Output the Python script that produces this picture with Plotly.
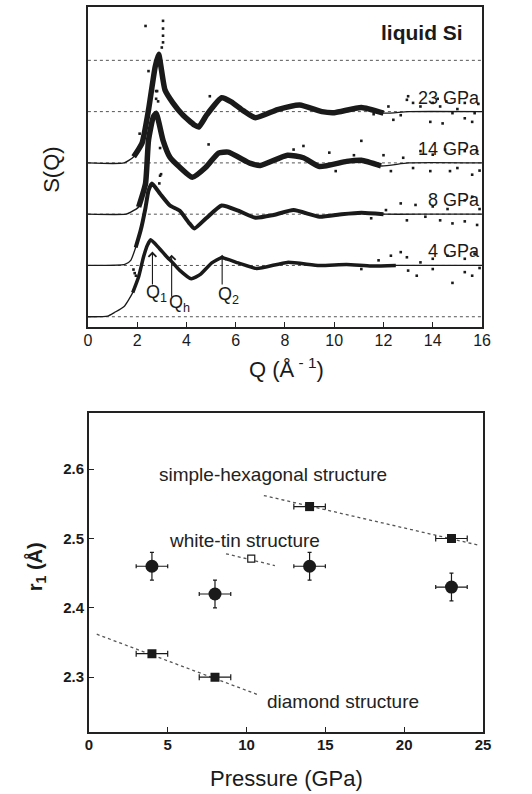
import plotly.graph_objects as go

# ---------------- top panel: S(Q) curves (stacked, offset 1 per curve) ----------------
pressures_top = ["4 GPa", "8 GPa", "14 GPa", "23 GPa"]
offsets = [0, 1, 2, 3]
ref_levels = [0, 1, 2, 3, 4, 5]

q4 = [0, 0.8, 1.07, 1.47, 1.82, 2.06, 2.26, 2.42, 2.55, 2.85, 3.2, 3.45, 3.72, 4.2, 4.55, 5.03, 5.43, 6.1, 6.85, 8.1, 9.4, 10.5, 11.5, 12.5, 14, 16]
s4 = [0, 0.01, 0.08, 0.2, 0.47, 0.78, 1.17, 1.4, 1.5, 1.36, 1.17, 1.05, 0.91, 0.74, 0.82, 1.05, 1.15, 1.05, 0.94, 1.06, 1.0, 1.02, 0.99, 1.0, 1.0, 1.0]

q8 = [0, 1.5, 1.74, 1.94, 2.14, 2.34, 2.46, 2.6, 2.93, 3.33, 3.72, 4.12, 4.32, 4.8, 5.43, 6.1, 6.8, 7.5, 8.35, 9.4, 10.3, 11.1, 12, 14, 16]
s8 = [0, 0.02, 0.1, 0.35, 0.68, 1.13, 1.46, 1.6, 1.4, 1.17, 1.07, 0.82, 0.72, 0.92, 1.17, 1.07, 0.93, 0.98, 1.08, 0.95, 1.0, 1.03, 1.0, 1.0, 1.0]

q14 = [0, 1.55, 1.74, 2.06, 2.34, 2.46, 2.65, 2.77, 3.05, 3.33, 3.72, 4.24, 4.8, 5.3, 5.7, 6.6, 7.0, 8.1, 8.75, 9.4, 10.5, 11.1, 11.9, 13, 16]
s14 = [0, 0.0, 0.04, 0.14, 0.6, 1.44, 1.89, 1.97, 1.44, 1.11, 0.92, 0.72, 0.92, 1.19, 1.21, 0.99, 0.95, 1.15, 1.1, 0.93, 1.03, 1.05, 0.94, 1.0, 1.0]

q23 = [0, 1.47, 1.86, 2.2, 2.46, 2.73, 2.87, 3.13, 3.45, 3.84, 4.32, 4.5, 4.83, 5.43, 5.82, 6.3, 6.8, 7.7, 8.6, 9.5, 10.0, 11.1, 12.0, 13, 16]
s23 = [0, 0.0, 0.12, 0.39, 1.03, 1.87, 2.12, 1.42, 1.17, 0.94, 0.74, 0.70, 0.94, 1.27, 1.19, 1.02, 0.88, 1.04, 1.13, 1.0, 0.98, 1.08, 0.97, 1.0, 1.0]

# scattered individual data points
dq4 = [1.85, 1.9, 1.95, 11.1, 11.8, 12.3, 12.7, 12.95, 13.0, 13.35, 13.5, 14.0, 14.0, 14.6, 14.8, 15.3, 15.3, 15.6, 15.7, 15.9]
ds4 = [0.92, 0.85, 0.8, 0.93, 1.1, 1.19, 1.26, 1.16, 0.9, 0.8, 1.06, 1.13, 0.93, 1.19, 0.66, 1.13, 0.87, 0.8, 1.23, 0.95]
dq8 = [2.9, 2.93, 11.5, 12.1, 12.7, 12.95, 13.3, 13.7, 14.0, 14.3, 14.6, 14.8, 15.3, 15.3, 15.6, 15.8, 15.9]
ds8 = [1.6, 1.75, 0.92, 1.08, 1.21, 0.88, 1.18, 0.95, 1.15, 0.88, 1.1, 0.82, 1.27, 0.86, 1.34, 0.79, 1.1]
dq14 = [2.77, 2.77, 2.93, 2.97, 4.9, 8.35, 8.75, 9.8, 10.06, 10.8, 11.1, 12.0, 12.3, 12.8, 13.2, 13.5, 13.9, 14.0, 14.5, 14.7, 15.0, 15.3, 15.6, 15.8, 15.9]
ds14 = [2.4, 2.25, 1.29, 0.78, 1.36, 1.26, 1.33, 1.2, 0.84, 1.15, 1.43, 1.15, 0.84, 1.1, 0.9, 1.23, 0.84, 1.16, 1.26, 0.84, 0.9, 1.23, 0.77, 1.23, 0.85]
dq23 = [2.1, 2.34, 2.46, 2.81, 2.85, 3.0, 3.05, 3.05, 3.05, 3.05, 4.95, 11.6, 12.2, 12.4, 12.7, 12.95, 13.0, 13.2, 13.5, 13.9, 14.0, 14.2, 14.3, 14.4, 14.55, 14.8, 15.0, 15.3, 15.3, 15.6, 15.7, 15.85]
ds23 = [0.57, 2.67, 1.79, 1.4, 1.2, 2.25, 2.35, 2.48, 2.62, 2.77, 1.3, 0.95, 1.1, 0.84, 0.93, 1.23, 1.3, 1.17, 1.1, 0.8, 1.17, 1.25, 1.1, 0.77, 1.2, 0.97, 1.05, 1.17, 0.87, 0.8, 0.97, 1.15]

curves_q = [q4, q8, q14, q23]
curves_s = [s4, s8, s14, s23]
dots_q = [dq4, dq8, dq14, dq23]
dots_s = [ds4, ds8, ds14, ds23]
band_width = [3.5, 4.0, 5.5, 5.5]

# peak markers: label, Q of arrow, arrow head / tail and label position (units of the 4 GPa curve)
peak_labels = ["Q<sub>1</sub>", "Q<sub>h</sub>", "Q<sub>2</sub>"]
peak_q = [2.62, 3.4, 5.45]
peak_head = [1.27, 1.21, 1.21]
peak_tail = [0.6, 0.36, 0.6]
peak_label_q = [2.8, 3.72, 5.72]
peak_label_s = [0.46, 0.25, 0.42]

# ---------------- bottom panel: r1 vs pressure ----------------
liq_p = [4, 8, 14, 23]
liq_r = [2.46, 2.42, 2.46, 2.43]
liq_perr = [1, 1, 1, 1]
liq_rerr = [0.02, 0.02, 0.02, 0.02]

dia_p = [4, 8]
dia_r = [2.334, 2.30]
sh_p = [14, 23]
sh_r = [2.546, 2.50]
sq_perr = [1, 1]
wt_p = [10.3]
wt_r = [2.471]

dia_fit_p = [0.5, 10.7]
dia_fit_r = [2.362, 2.275]
sh_fit_p = [11.1, 24.8]
sh_fit_r = [2.562, 2.490]
wt_fit_p = [8.7, 11.8]
wt_fit_r = [2.478, 2.461]

struct_labels = ["simple-hexagonal structure", "white-tin structure", "diamond structure"]
struct_p = [11.7, 9.9, 16.1]
struct_r = [2.593, 2.497, 2.265]

FONT = "Liberation Sans, Arial, Helvetica, sans-serif"
INK = "#1a1a1a"

fig = go.Figure()

# reference dotted levels
for lv in ref_levels:
    fig.add_trace(go.Scatter(x=[0, 16], y=[lv, lv], mode="lines",
                             line=dict(color="#555", width=1, dash="dot"),
                             hoverinfo="skip", showlegend=False, xaxis="x", yaxis="y"))

for qs, ss, off, bw, dq, ds in zip(curves_q, curves_s, offsets, band_width, dots_q, dots_s):
    yy = [s + off for s in ss]
    # thin fitted line over whole range
    fig.add_trace(go.Scatter(x=qs, y=yy, mode="lines",
                             line=dict(color=INK, width=1.3, shape="spline", smoothing=0.5),
                             hoverinfo="skip", showlegend=False, xaxis="x", yaxis="y"))
    # dense data band
    bq = [q for q in qs if 1.8 <= q <= 12.5]
    by = [s + off for q, s in zip(qs, ss) if 1.8 <= q <= 12.5]
    fig.add_trace(go.Scatter(x=bq, y=by, mode="lines",
                             line=dict(color=INK, width=bw, shape="spline", smoothing=0.5),
                             hoverinfo="skip", showlegend=False, xaxis="x", yaxis="y"))
    fig.add_trace(go.Scatter(x=dq, y=[s + off for s in ds], mode="markers",
                             marker=dict(color=INK, size=2.6, symbol="square"),
                             hoverinfo="skip", showlegend=False, xaxis="x", yaxis="y"))

# bottom panel traces
for fp, fr in [(dia_fit_p, dia_fit_r), (sh_fit_p, sh_fit_r), (wt_fit_p, wt_fit_r)]:
    fig.add_trace(go.Scatter(x=fp, y=fr, mode="lines",
                             line=dict(color="#555", width=1.3, dash="dot"),
                             showlegend=False, xaxis="x2", yaxis="y2"))

fig.add_trace(go.Scatter(x=liq_p, y=liq_r, mode="markers",
                         marker=dict(color=INK, size=13, symbol="circle"),
                         error_x=dict(type="data", array=liq_perr, color=INK, thickness=1.2, width=2),
                         error_y=dict(type="data", array=liq_rerr, color=INK, thickness=1.2, width=2),
                         showlegend=False, xaxis="x2", yaxis="y2"))
for pp, rr in [(dia_p, dia_r), (sh_p, sh_r)]:
    fig.add_trace(go.Scatter(x=pp, y=rr, mode="markers",
                             marker=dict(color=INK, size=9, symbol="square"),
                             error_x=dict(type="data", array=sq_perr, color=INK, thickness=1.2, width=3),
                             showlegend=False, xaxis="x2", yaxis="y2"))
fig.add_trace(go.Scatter(x=wt_p, y=wt_r, mode="markers",
                         marker=dict(color="white", size=7, symbol="square",
                                     line=dict(color=INK, width=1.2)),
                         showlegend=False, xaxis="x2", yaxis="y2"))

ann = []
# pressure labels
for lab, off in zip(pressures_top, offsets):
    ann.append(dict(x=16, y=off + 1, xref="x", yref="y", text=lab, showarrow=False,
                    xanchor="right", yanchor="bottom", yshift=2,
                    font=dict(family=FONT, size=18, color=INK)))
ann.append(dict(x=15.3, y=5.55, xref="x", yref="y", text="<b>liquid Si</b>", showarrow=False,
                xanchor="right", yanchor="middle", font=dict(family=FONT, size=21, color=INK)))
for lab, q, h, t, lq, ls in zip(peak_labels, peak_q, peak_head, peak_tail, peak_label_q, peak_label_s):
    ann.append(dict(x=q, y=h, ax=q, ay=t, xref="x", yref="y", axref="x", ayref="y", text="",
                    showarrow=True, arrowhead=4, arrowsize=1.4, arrowwidth=1.1, arrowcolor=INK))
    ann.append(dict(x=lq, y=ls, xref="x", yref="y", text=lab, showarrow=False,
                    font=dict(family=FONT, size=18, color=INK)))
for lab, p, r in zip(struct_labels, struct_p, struct_r):
    ann.append(dict(x=p, y=r, xref="x2", yref="y2", text=lab, showarrow=False,
                    font=dict(family=FONT, size=19, color="#222")))

W, H = 532, 794
def px(xp, yp):
    return xp / W, 1 - yp / H

for text, (xp, yp), ang, size in [("S(Q)", (48, 170), -90, 22),
                                  ("Q (Å<sup> - 1</sup>)", (290, 368), 0, 22),
                                  ("<b>r<sub>1</sub> (Å)</b>", (33, 567), -90, 20),
                                  ("Pressure (GPa)", (290, 778), 0, 22)]:
    x, y = px(xp, yp)
    ann.append(dict(x=x, y=y, xref="paper", yref="paper", text=text, showarrow=False,
                    textangle=ang, xanchor="center", yanchor="middle",
                    font=dict(family=FONT, size=size, color=INK)))

axis_common = dict(showline=True, mirror=True, linecolor="#222", linewidth=1.6,
                   showgrid=False, zeroline=False, ticks="inside", ticklen=5,
                   tickcolor="#222", tickwidth=1.4)

fig.update_layout(
    width=W, height=H, margin=dict(l=0, r=0, t=0, b=0),
    paper_bgcolor="white", plot_bgcolor="white",
    showlegend=False,
    xaxis=dict(domain=[86 / W, 490 / W], anchor="y", range=[0, 16], tickvals=[0, 2, 4, 6, 8, 10, 12, 14, 16],
               tickfont=dict(family=FONT, size=16, color=INK), ticklabelstandoff=-2, **axis_common),
    yaxis=dict(domain=[1 - 327 / H, 1 - 7 / H], anchor="x", range=[-0.2, 6.04], showticklabels=False,
               **axis_common),
    xaxis2=dict(domain=[87 / W, 491 / W], anchor="y2", range=[0, 25], tickvals=[0, 5, 10, 15, 20, 25],
                ticktext=["<b>0</b>", "<b>5</b>", "<b>10</b>", "<b>15</b>", "<b>20</b>", "<b>25</b>"],
                tickfont=dict(family=FONT, size=15, color=INK), ticklabelstandoff=-2, **axis_common),
    yaxis2=dict(domain=[1 - 732 / H, 1 - 413 / H], anchor="x2", range=[2.221, 2.681],
                tickvals=[2.3, 2.4, 2.5, 2.6], ticktext=["<b>2.3</b>", "<b>2.4</b>", "<b>2.5</b>", "<b>2.6</b>"],
                tickfont=dict(family=FONT, size=15, color=INK), ticklabelstandoff=0, **axis_common),
    annotations=ann,
)
fig.update_yaxes(ticks="", selector=dict(anchor="x"))

fig.write_html("out.html")
